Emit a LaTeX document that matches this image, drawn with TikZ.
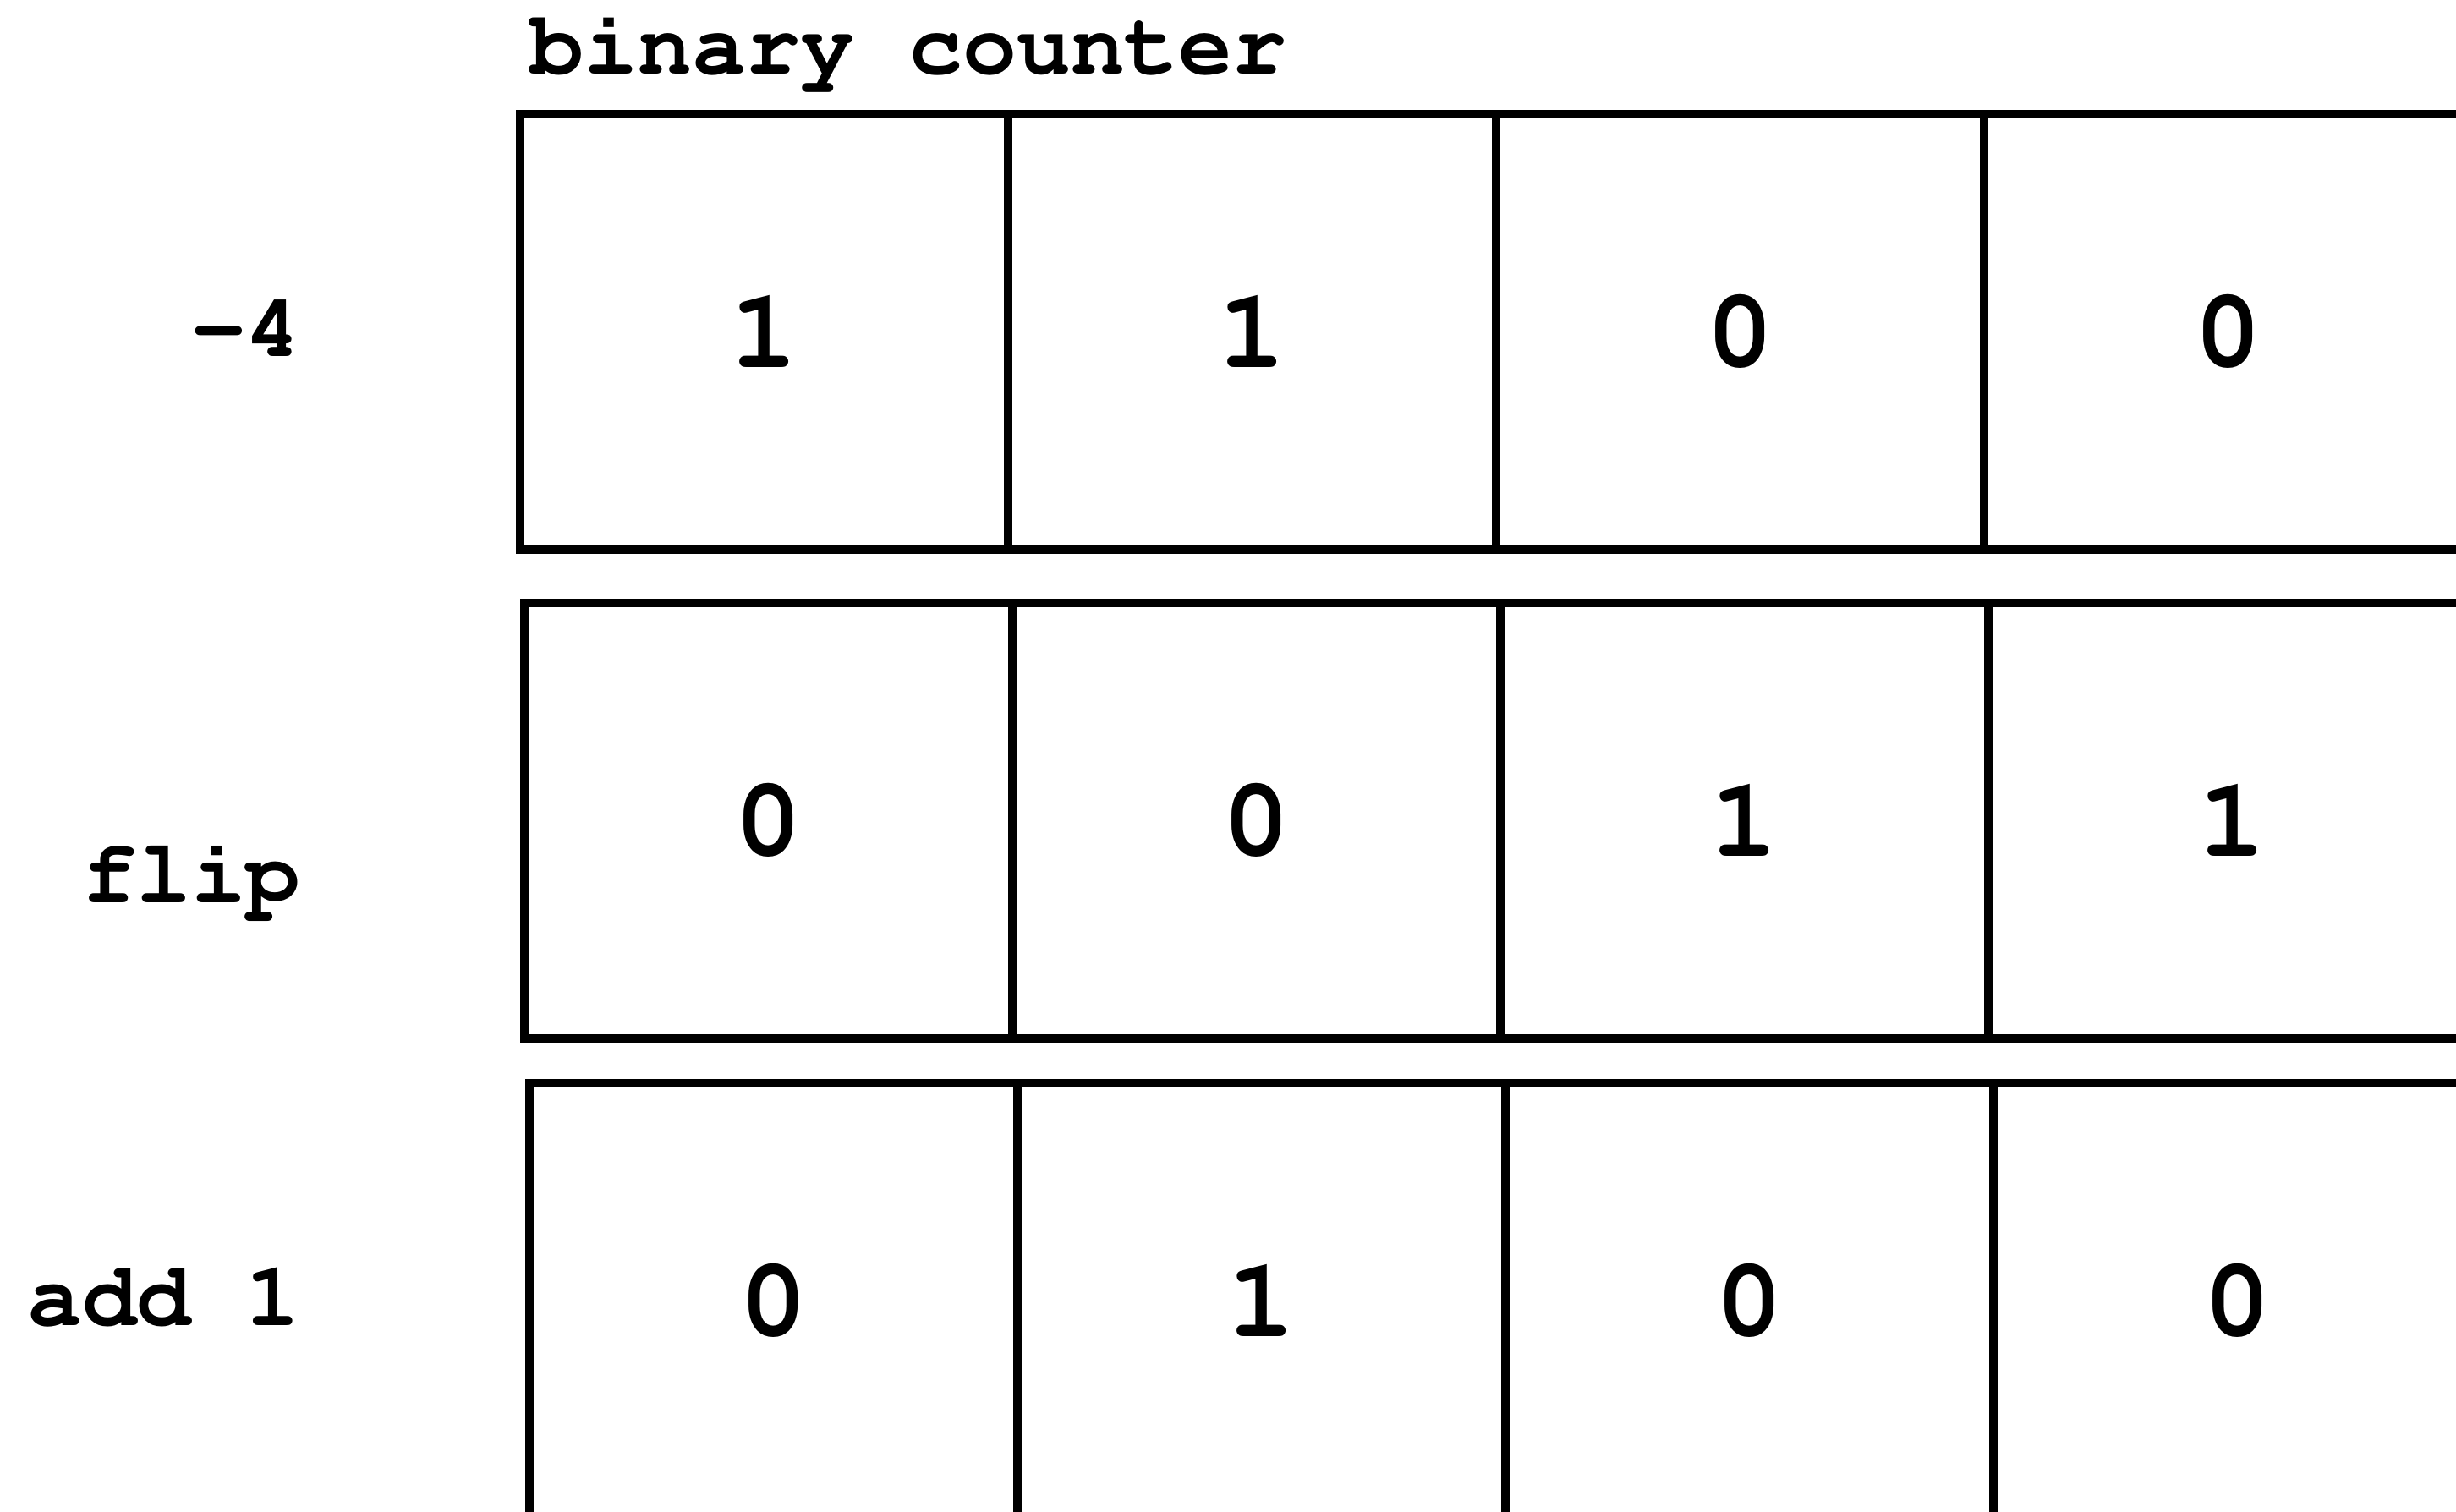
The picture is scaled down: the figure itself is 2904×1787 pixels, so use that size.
\documentclass[tikz,border=0pt]{standalone}
\newcommand{\titfont}{\fontencoding{T1}\fontfamily{pcr}\fontseries{b}\fontsize{30.3}{36}\selectfont}
\newcommand{\labfont}{\fontencoding{T1}\fontfamily{pcr}\fontseries{b}\fontsize{30.6}{36}\selectfont}
\newcommand{\digfont}{\fontencoding{T1}\fontfamily{pcr}\fontseries{b}\fontsize{38}{44}\selectfont}
\begin{document}
\begin{tikzpicture}[x=0.01cm,y=-0.01cm,
  cellbox/.style={draw,line width=0.1cm,minimum width=5.77cm,minimum height=5.15cm,
    inner sep=0pt,outer sep=0pt,anchor=north west,font=\digfont},
  lab/.style={font=\labfont,inner sep=0pt,anchor=base east}]
\useasboundingbox (0,0) rectangle (2904,1787);
\node[font=\titfont,inner sep=0pt,anchor=base west] (title) at (626,87) {binary counter};
% row 1
\node[cellbox] (c11) at (615,135) {1};
\node[cellbox] (c12) at (1192,135) {1};
\node[cellbox] (c13) at (1769,135) {0};
\node[cellbox] (c14) at (2346,135) {0};
% row 2
\node[cellbox] (c21) at (620,713) {0};
\node[cellbox] (c22) at (1197,713) {0};
\node[cellbox] (c23) at (1774,713) {1};
\node[cellbox] (c24) at (2351,713) {1};
% row 3
\node[cellbox] (c31) at (626,1281) {0};
\node[cellbox] (c32) at (1203,1281) {1};
\node[cellbox] (c33) at (1780,1281) {0};
\node[cellbox] (c34) at (2357,1281) {0};
% labels
\node[lab] (l1) at (356,421) {-4};
\node[lab] (l2) at (356,1067) {flip};
\node[lab] (l3) at (356,1567) {add 1};
\end{tikzpicture}
\end{document}
